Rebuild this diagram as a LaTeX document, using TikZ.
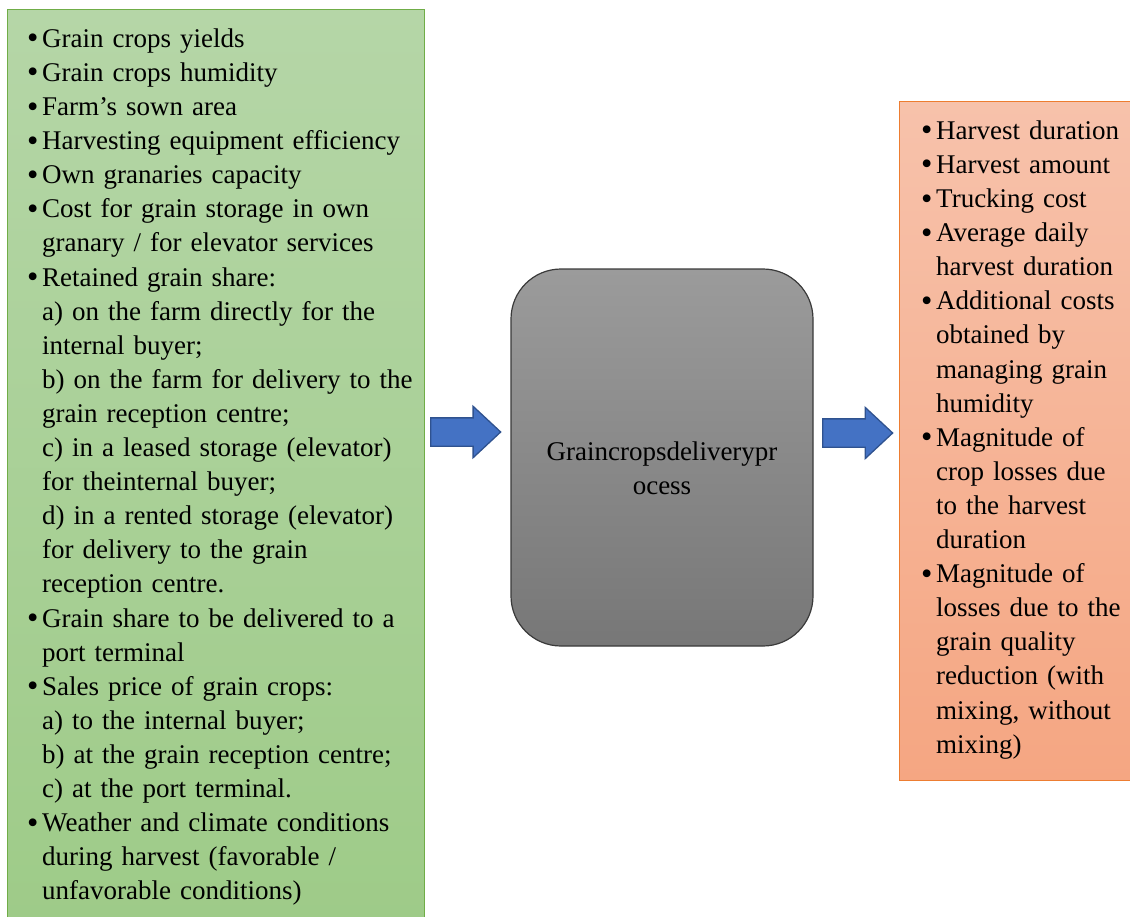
\documentclass[tikz,border=0pt]{standalone}
\usepackage{graphicx}
\usepackage{fontspec}
\setmainfont{Liberation Serif}
\usetikzlibrary{shapes.arrows}
\newcommand{\gitem}{\par\hangindent=15pt\hangafter=1\noindent\makebox[15pt][l]{\raisebox{-1.5pt}{\scalebox{1.2}{\textbullet}}}}

\begin{document}
\begin{tikzpicture}[x=1pt,y=-1pt,
        listtext/.style={anchor=north west, inner sep=0pt, font=\fontsize{27}{34.1}\selectfont},
        blockarrow/.style={single arrow, draw=arrowline, fill=arrowfill, line width=1.3pt,
            inner sep=0pt, text height=13.5pt, text depth=13.5pt, minimum height=70pt,
            single arrow head extend=11.5pt, single arrow tip angle=86, anchor=tail}]
        \definecolor{greenTop}{HTML}{B5D6A7}
        \definecolor{greenBot}{HTML}{9ECB88}
        \definecolor{greenLine}{HTML}{70AD47}
        \definecolor{orangeTop}{HTML}{F7C2AB}
        \definecolor{orangeBot}{HTML}{F5A682}
        \definecolor{orangeLine}{HTML}{ED7D31}
        \definecolor{grayTop}{HTML}{9B9B9B}
        \definecolor{grayBot}{HTML}{777777}
        \definecolor{grayLine}{HTML}{3A3A3A}
        \definecolor{arrowfill}{HTML}{4472C4}
        \definecolor{arrowline}{HTML}{2F528F}
        \useasboundingbox (0,0) rectangle (1130,916);
        \clip (0,0) rectangle (1130,916);
        \node[draw=greenLine, line width=1.2pt, top color=greenTop, bottom color=greenBot,
            anchor=north west, minimum width=417pt, minimum height=915pt] (input) at (7,9) {};
        \node[draw=orangeLine, line width=1.2pt, top color=orangeTop, bottom color=orangeBot,
            anchor=north west, minimum width=240pt, minimum height=679pt] (output) at (899,101) {};
        \node[draw=grayLine, line width=1.2pt, top color=grayTop, bottom color=grayBot,
            rounded corners=50pt, minimum width=302pt, minimum height=377pt] (process) at (662,457.5) {};
        \node[listtext, text width=430pt] (inlist) at (27,13) {%
            \gitem\strut Grain crops yields
            \gitem Grain crops humidity
            \gitem Farm’s sown area
            \gitem Harvesting equipment efficiency
            \gitem Own granaries capacity
            \gitem Cost for grain storage in own\newline granary / for elevator services
            \gitem Retained grain share:\newline
                a) on the farm directly for the\newline internal buyer;\newline
                b) on the farm for delivery to the\newline grain reception centre;\newline
                c) in a leased storage (elevator)\newline for theinternal buyer;\newline
                d) in a rented storage (elevator)\newline for delivery to the grain\newline reception centre.
            \gitem Grain share to be delivered to a\newline port terminal
            \gitem Sales price of grain crops:\newline
                a) to the internal buyer;\newline
                b) at the grain reception centre;\newline
                c) at the port terminal.
            \gitem Weather and climate conditions\newline during harvest (favorable /\newline unfavorable conditions)\par};
        \node[listtext, text width=230pt] (outlist) at (921,105) {%
            \gitem\strut Harvest duration
            \gitem Harvest amount
            \gitem Trucking cost
            \gitem Average daily\newline harvest duration
            \gitem Additional costs\newline obtained by\newline managing grain\newline humidity
            \gitem Magnitude of\newline crop losses due\newline to the harvest\newline duration
            \gitem Magnitude of\newline losses due to the\newline grain quality\newline reduction (with\newline mixing, without\newline mixing)\par};
        \node[listtext, anchor=north, align=center] (proclbl) at (662,436) {\strut Graincropsdeliverypr\\ocess};
        \node[blockarrow] (arrIn) at (430,432) {};
        \node[blockarrow] (arrOut) at (822,433) {};
    \end{tikzpicture}
\end{document}
